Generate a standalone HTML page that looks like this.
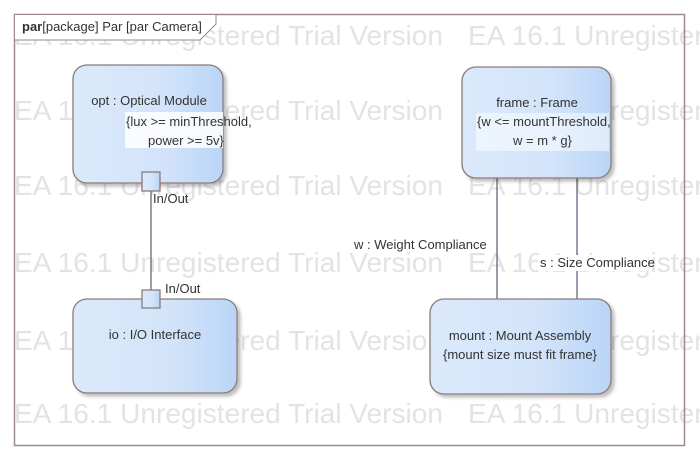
<!DOCTYPE html>
<html><head><meta charset="utf-8"><style>
html,body{margin:0;padding:0;background:#fff;width:700px;height:461px;overflow:hidden}
svg{display:block}
text{font-family:"Liberation Sans",sans-serif}
</style></head><body>
<svg width="700" height="461" viewBox="0 0 700 461">
<defs>
<linearGradient id="g" x1="0" x2="1" y1="0" y2="0">
<stop offset="0" stop-color="#dbe9fb"/><stop offset="0.6" stop-color="#d3e4fa"/><stop offset="1" stop-color="#b9d5f6"/>
</linearGradient>
<filter id="sh" x="-10%" y="-10%" width="130%" height="130%"><feDropShadow dx="3" dy="3" stdDeviation="1.5" flood-color="#000" flood-opacity="0.25"/></filter>
</defs>
<g font-size="28" fill="#e3e3e3">
<text x="14" y="45" textLength="429" lengthAdjust="spacingAndGlyphs">EA 16.1 Unregistered Trial Version</text><text x="468" y="45" textLength="429" lengthAdjust="spacingAndGlyphs">EA 16.1 Unregistered Trial Version</text>
<text x="14" y="120" textLength="429" lengthAdjust="spacingAndGlyphs">EA 16.1 Unregistered Trial Version</text><text x="468" y="120" textLength="429" lengthAdjust="spacingAndGlyphs">EA 16.1 Unregistered Trial Version</text>
<text x="14" y="195" textLength="429" lengthAdjust="spacingAndGlyphs">EA 16.1 Unregistered Trial Version</text><text x="468" y="195" textLength="429" lengthAdjust="spacingAndGlyphs">EA 16.1 Unregistered Trial Version</text>
<text x="14" y="272" textLength="429" lengthAdjust="spacingAndGlyphs">EA 16.1 Unregistered Trial Version</text><text x="468" y="272" textLength="429" lengthAdjust="spacingAndGlyphs">EA 16.1 Unregistered Trial Version</text>
<text x="14" y="350" textLength="429" lengthAdjust="spacingAndGlyphs">EA 16.1 Unregistered Trial Version</text><text x="468" y="350" textLength="429" lengthAdjust="spacingAndGlyphs">EA 16.1 Unregistered Trial Version</text>
<text x="14" y="423" textLength="429" lengthAdjust="spacingAndGlyphs">EA 16.1 Unregistered Trial Version</text><text x="468" y="423" textLength="429" lengthAdjust="spacingAndGlyphs">EA 16.1 Unregistered Trial Version</text>
</g>
<rect x="14.5" y="14.5" width="670" height="431" fill="none" stroke="#9a8a8a" stroke-width="1.5"/>
<path d="M14.5 14.5 H216 V24 L200 40 H14.5 Z" fill="#fff" stroke="#9a8a8a"/>
<text x="22" y="31" font-size="13" fill="#333"><tspan font-weight="bold">par</tspan>[package] Par [par Camera]</text>
<g stroke="#555a70" stroke-width="1.2">
<line x1="151" y1="191" x2="151" y2="290"/>
<line x1="497" y1="178" x2="497" y2="299"/>
<line x1="577" y1="178" x2="577" y2="299"/>
</g>
<g fill="url(#g)" stroke="#8c7a7a" stroke-width="1.3" filter="url(#sh)">
<rect x="73" y="65" width="150" height="118" rx="14"/>
<rect x="73" y="299" width="164" height="94" rx="14"/>
<rect x="462" y="67" width="149" height="111" rx="14"/>
<rect x="430" y="299" width="181" height="95" rx="14"/>
</g>
<g fill="url(#g)" stroke="#8c7a7a" stroke-width="1.3">
<rect x="142" y="172" width="18" height="19"/>
<rect x="142" y="290" width="18" height="18"/>
</g>
<g font-size="13" fill="#333">
<rect x="125" y="112" width="98" height="36" fill="#fff" opacity="0.85"/>
<text x="149" y="105" text-anchor="middle">opt : Optical Module</text>
<text x="126" y="126">{lux &gt;= minThreshold,</text>
<text x="148" y="145">power &gt;= 5v}</text>
<text x="153" y="203">In/Out</text>
<text x="165" y="293">In/Out</text>
<text x="155" y="339" text-anchor="middle">io : I/O Interface</text>
<rect x="476" y="113" width="133" height="38" fill="#fff" opacity="0.5"/>
<text x="537" y="107" text-anchor="middle">frame : Frame</text>
<text x="477" y="126">{w &lt;= mountThreshold,</text>
<text x="513" y="145">w = m * g}</text>
<text x="354" y="249">w : Weight Compliance</text>
<rect x="538" y="255" width="110" height="16" fill="#fff"/>
<text x="540" y="267">s : Size Compliance</text>
<text x="520" y="340" text-anchor="middle">mount : Mount Assembly</text>
<text x="443" y="359">{mount size must fit frame}</text>
</g>
</svg>
</body></html>
